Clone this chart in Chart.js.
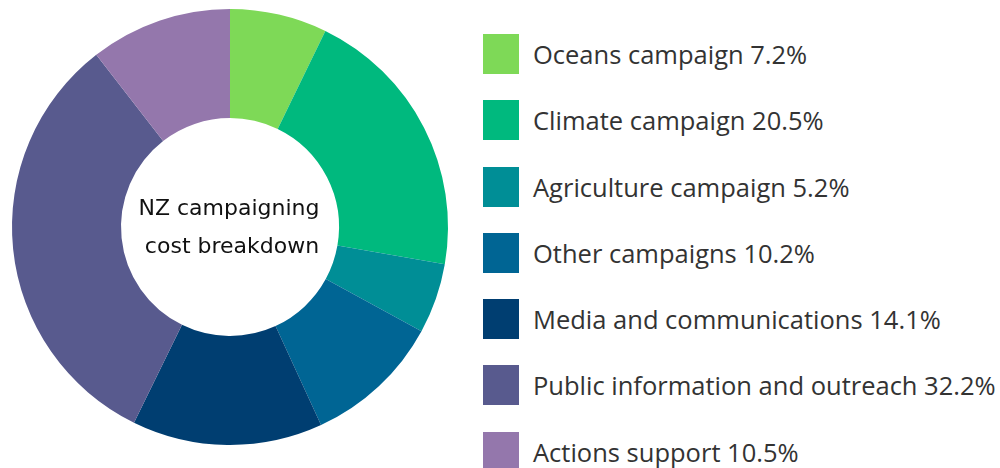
<!DOCTYPE html>
<html>
<head>
<meta charset="utf-8">
<script src="https://cdn.jsdelivr.net/npm/chart.js@4/dist/chart.umd.min.js"></script>
<style>
  body { margin: 0; background: #fff; }
  #wrap { position: relative; width: 1000px; height: 468px; }
  #pie { position: absolute; left: 0; top: 0; width: 460px; height: 468px; }
  #legend { position: absolute; left: 483px; top: 34px; font-family: "Open Sans", sans-serif; font-size: 25.5px; color: #333; }
  .row { display: flex; align-items: center; height: 40px; margin-bottom: 26.3px; }
  .box { width: 36px; height: 40px; margin-right: 14px; flex: none; }
</style>
</head>
<body>
<div id="wrap">
  <div id="pie"><canvas id="costChart"></canvas></div>
  <div id="legend"></div>
</div>
<script>
// data
const categories = ['Oceans campaign', 'Climate campaign', 'Agriculture campaign', 'Other campaigns',
  'Media and communications', 'Public information and outreach', 'Actions support'];
const shares = [7.2, 20.5, 5.2, 10.2, 14.1, 32.2, 10.5];
const colors = ['#7ed957', '#00b97e', '#008e96', '#006594', '#003e71', '#585a8e', '#9477ac'];
const centerLines = ['NZ campaigning', 'cost breakdown'];

// legend on the right
const legend = document.getElementById('legend');
categories.forEach((name, i) => {
  const row = document.createElement('div');
  row.className = 'row';
  row.innerHTML = '<span class="box" style="background:' + colors[i] + '"></span>' +
    '<span>' + name + ' ' + shares[i].toFixed(1) + '%</span>';
  legend.appendChild(row);
});

// text in the hole
const centerText = {
  id: 'centerText',
  afterDraw(chart) {
    const meta = chart.getDatasetMeta(0).data[0];
    const c = chart.ctx;
    c.save();
    c.font = '22px "DejaVu Sans", sans-serif';
    c.fillStyle = '#111';
    c.textAlign = 'center';
    c.textBaseline = 'alphabetic';
    c.fillText(centerLines[0], meta.x - 1, meta.y - 12);
    c.fillText(centerLines[1], meta.x + 2, meta.y + 26);
    c.restore();
  }
};

new Chart(document.getElementById('costChart'), {
  type: 'doughnut',
  data: {
    labels: categories,
    datasets: [{
      data: shares,
      backgroundColor: colors,
      borderWidth: 0
    }]
  },
  options: {
    responsive: true,
    maintainAspectRatio: false,
    animation: false,
    cutout: '50%',
    layout: { padding: { left: 12, right: 12, top: 9, bottom: 23 } },
    plugins: { legend: { display: false }, tooltip: { enabled: false } }
  },
  plugins: [centerText]
});
</script>
</body>
</html>
